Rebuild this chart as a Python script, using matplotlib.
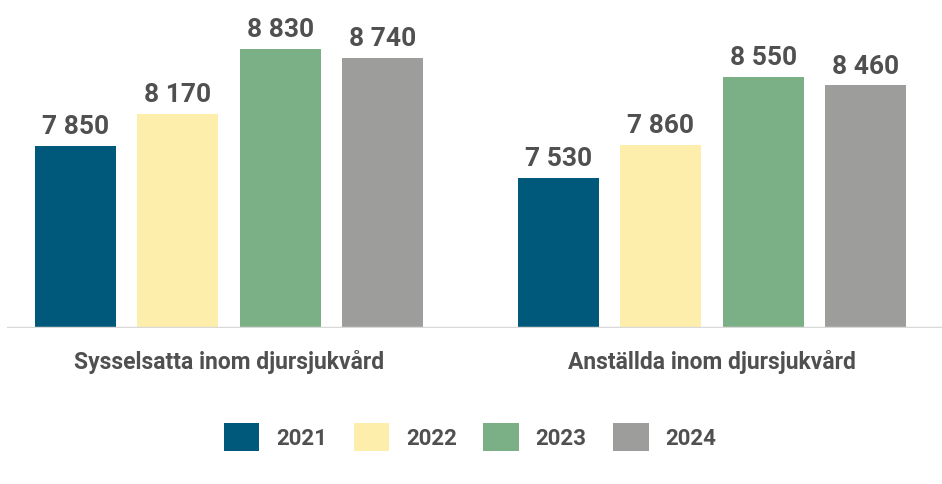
import numpy as np
import matplotlib.pyplot as plt

# Data
categories = ['Sysselsatta inom djursjukvård', 'Anställda inom djursjukvård']
years = ['2021', '2022', '2023', '2024']
values_2021 = [7850, 7530]
values_2022 = [8170, 7860]
values_2023 = [8830, 8550]
values_2024 = [8740, 8460]

colors = ['#00587a', '#feeeab', '#7bb087', '#9d9d9c']
text_color = '#505050'
plt.rcParams['font.family'] = ['Roboto', 'DejaVu Sans']

fig = plt.figure(figsize=(9.42, 4.85), dpi=100)
ax = fig.add_axes([7 / 942, 156 / 485, 935 / 942, 329 / 485])

x = np.arange(len(categories))
pitch = 0.2122
width = 0.1677
series = [values_2021, values_2022, values_2023, values_2024]

for i, (vals, year, col) in enumerate(zip(series, years, colors)):
    pos = x + (i - 1.5) * pitch
    bars = ax.bar(pos, vals, width, color=col, label=year, zorder=2)
    for b, v in zip(bars, vals):
        ax.text(b.get_x() + b.get_width() / 2, v + 80,
                f'{v:,}'.replace(',', ' '),
                ha='center', va='bottom', fontsize=19, fontweight='bold',
                color=text_color)

ax.set_ylim(6020, 9330)
ax.set_xlim(-0.4596, 1.476)
ax.axhline(6020, color='#d9d9d9', lw=2.5, zorder=3)

for s in ax.spines.values():
    s.set_visible(False)
ax.set_yticks([])
ax.set_xticks([])

for xi, cat in zip(x, categories):
    ax.text(xi, 5690, cat, ha='center', va='center', fontsize=16.5,
            fontweight='bold', color=text_color, clip_on=False)

leg = fig.legend(loc='center', bbox_to_anchor=(470 / 942, 1 - 438 / 485),
                 ncol=4, frameon=False, fontsize=16,
                 handlelength=1.6, handleheight=1.6, handletextpad=0.75,
                 columnspacing=1.2)
for t in leg.get_texts():
    t.set_color(text_color)
    t.set_fontweight('bold')

fig.savefig('out.png', dpi=100)
